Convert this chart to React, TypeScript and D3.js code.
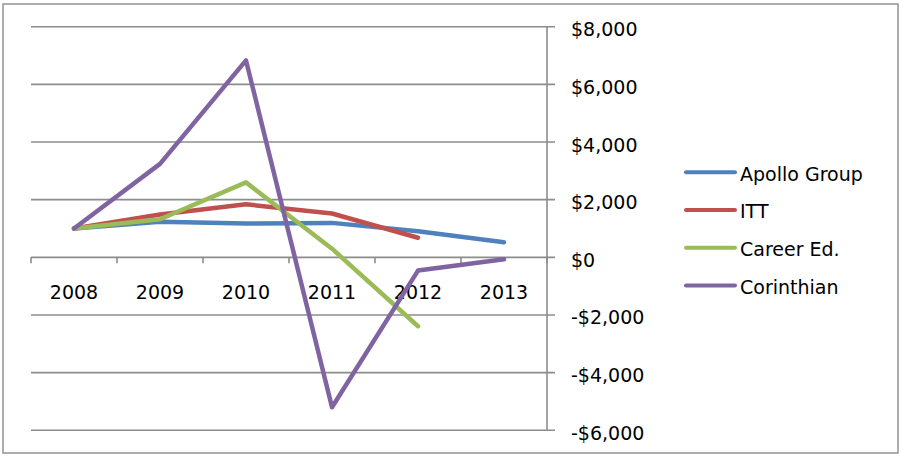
import React from "react";
import * as d3 from "d3";

const years = ["2008", "2009", "2010", "2011", "2012", "2013"];
const apollo = [1000, 1230, 1170, 1195, 905, 525];
const itt = [1000, 1485, 1840, 1520, 680];
const careerEd = [1000, 1320, 2600, 300, -2390];
const corinthian = [1000, 3240, 6830, -5200, -460, -70];
const yTicks = [-6000, -4000, -2000, 0, 2000, 4000, 6000, 8000];
const seriesNames = ["Apollo Group", "ITT", "Career Ed.", "Corinthian"];
const seriesColors = ["#4F81BD", "#C0504D", "#9BBB59", "#8064A2"];
const seriesData = [apollo, itt, careerEd, corinthian];

const W = 902;
const H = 458;
const FONT = "'DejaVu Sans', sans-serif";

export default function App() {
  const x = d3.scaleBand<string>().domain(years).range([31, 547]);
  const y = d3.scaleLinear().domain([-6000, 8000]).range([430.3, 26.7]);
  const cx = (i: number) => (x(years[i]) as number) + x.bandwidth() / 2;
  const line = d3
    .line<number>()
    .x((_, i) => cx(i))
    .y((d) => y(d));
  const fmt = (v: number) => (v < 0 ? "-$" : "$") + d3.format(",")(Math.abs(v));
  const grid = "#8c8c8c";
  const y0 = y(0);
  const bounds = years.map((yr) => x(yr) as number).concat([547]);

  return (
    <svg
      width={W}
      height={H}
      style={{ position: "absolute", left: 0, top: 0, background: "#fff" }}
      fontFamily={FONT}
    >
      <rect x={0} y={0} width={W} height={H} fill="#fff" />
      <rect x={3} y={4} width={895} height={449} fill="none" stroke="#999" strokeWidth={1.6} />
      {yTicks.map((t) => (
        <g key={t}>
          <line x1={31} x2={555} y1={y(t)} y2={y(t)} stroke={grid} strokeWidth={1.6} />
          <text x={571} y={y(t)} dy="0.5em" fontSize={19} fill="#000">
            {fmt(t)}
          </text>
        </g>
      ))}
      <line x1={547} x2={547} y1={y(8000)} y2={y(-6000)} stroke={grid} strokeWidth={1.6} />
      {bounds.map((b, i) => (
        <line key={i} x1={b} x2={b} y1={y0} y2={y0 + 6} stroke={grid} strokeWidth={1.6} />
      ))}
      {years.map((yr, i) => (
        <text key={yr} x={cx(i)} y={298.5} textAnchor="middle" fontSize={19} fill="#000">
          {yr}
        </text>
      ))}
      {seriesData.map((s, k) => (
        <path
          key={k}
          d={line(s) || ""}
          fill="none"
          stroke={seriesColors[k]}
          strokeWidth={4.5}
          strokeLinejoin="round"
          strokeLinecap="round"
        />
      ))}
      {seriesNames.map((n, k) => {
        const ly = 172.3 + k * 37.7;
        return (
          <g key={n}>
            <line x1={686} x2={735} y1={ly} y2={ly} stroke={seriesColors[k]} strokeWidth={4} strokeLinecap="round" />
            <text x={740} y={ly + 8.3} fontSize={19} fill="#000">
              {n}
            </text>
          </g>
        );
      })}
    </svg>
  );
}
